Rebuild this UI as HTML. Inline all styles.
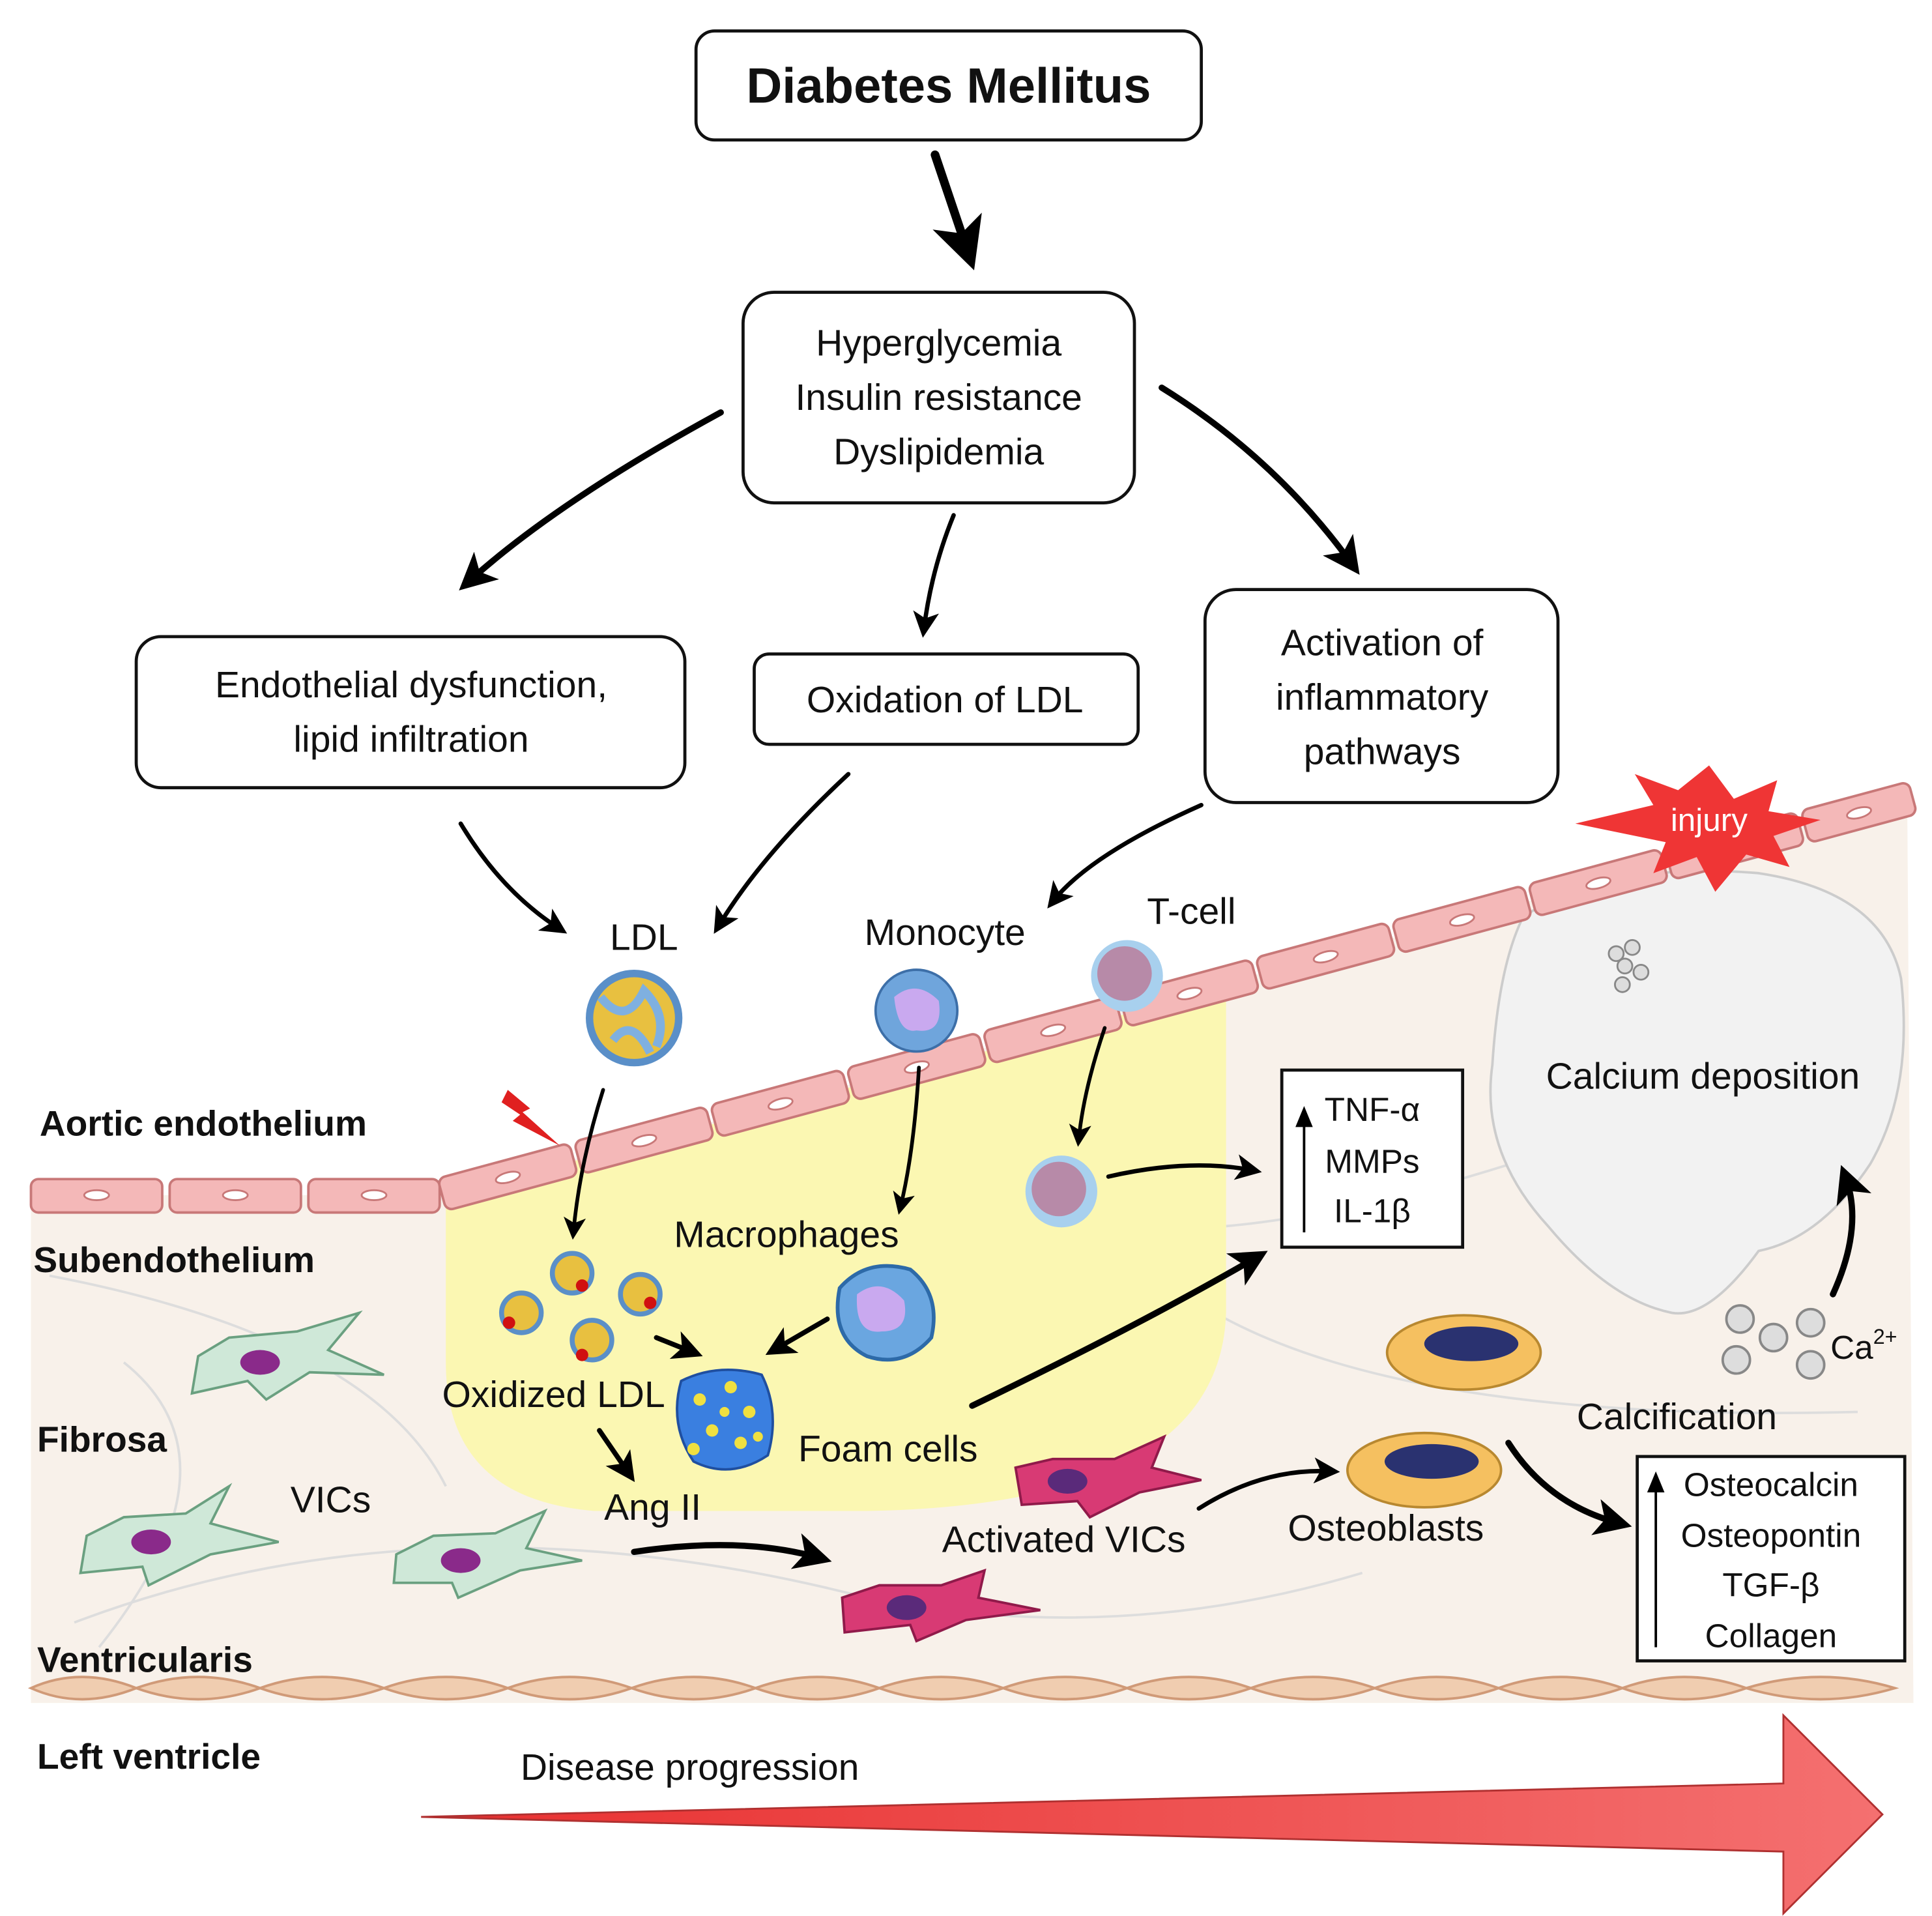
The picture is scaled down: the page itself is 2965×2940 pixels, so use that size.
<!DOCTYPE html>
<html><head><meta charset="utf-8"><style>
html,body{margin:0;padding:0;background:#fff;}
svg{display:block;}
text{font-family:"Liberation Sans",sans-serif;fill:#111;}
</style></head><body>
<svg width="2965" height="2940" viewBox="0 0 1560 1547" preserveAspectRatio="none" xmlns="http://www.w3.org/2000/svg">
<defs>
<marker id="ah" markerWidth="6" markerHeight="6" refX="4" refY="3" orient="auto" markerUnits="strokeWidth"><path d="M0,0 L6,3 L0,6 L1.5,3 Z" fill="#000"/></marker>
<linearGradient id="rg" x1="0" x2="1" y1="0" y2="0"><stop offset="0" stop-color="#e83030"/><stop offset="1" stop-color="#f47070"/></linearGradient>
</defs>
<rect width="1560" height="1547" fill="#fff"/>
<!-- tissue -->
<path d="M25,965 L355,965 L1540,645 L1545,1375 L25,1375 Z" fill="#f8f1ea"/>
<!-- fibers -->
<g stroke="#ddd" stroke-width="2" fill="none">
<path d="M40,1030 Q300,1080 360,1200"/><path d="M60,1310 Q350,1200 700,1290 Q900,1330 1100,1270"/>
<path d="M950,1040 Q1100,1150 1500,1140"/><path d="M100,1100 Q200,1180 80,1330"/>
<path d="M990,990 Q1100,980 1250,930"/>
</g>
<!-- yellow region -->
<path d="M360,965 L990,797 L990,1060 Q985,1215 700,1220 L480,1220 Q360,1210 360,1100 Z" fill="#fbf7b2"/>
<!-- calcium blob -->
<path d="M1230,740 Q1300,695 1420,705 Q1520,720 1535,790 Q1545,880 1510,940 Q1470,1000 1420,1010 Q1380,1065 1350,1060 Q1300,1050 1250,990 Q1195,930 1205,860 Q1210,780 1230,740 Z" fill="#f2f2f2" stroke="#ccc" stroke-width="2"/>
<g fill="#ddd" stroke="#888" stroke-width="1.5"><circle cx="1305" cy="770" r="6"/><circle cx="1318" cy="765" r="6"/><circle cx="1312" cy="780" r="6"/><circle cx="1325" cy="785" r="6"/><circle cx="1310" cy="795" r="6"/></g>
<!-- endothelium flat -->
<g fill="#f4b8b8" stroke="#c87878" stroke-width="2">
<rect x="25" y="952" width="106" height="27" rx="6"/><rect x="137" y="952" width="106" height="27" rx="6"/><rect x="249" y="952" width="106" height="27" rx="6"/>
</g>
<g fill="#fff" stroke="#c87878" stroke-width="1.5"><ellipse cx="78" cy="965" rx="10" ry="4"/><ellipse cx="190" cy="965" rx="10" ry="4"/><ellipse cx="302" cy="965" rx="10" ry="4"/></g>
<!-- endothelium slope -->
<g transform="translate(357,965) rotate(-15.1)">
<g fill="#f4b8b8" stroke="#c87878" stroke-width="2">
<rect x="0" y="-14" width="110" height="27" rx="6"/><rect x="114" y="-14" width="110" height="27" rx="6"/><rect x="228" y="-14" width="110" height="27" rx="6"/><rect x="342" y="-14" width="110" height="27" rx="6"/><rect x="456" y="-14" width="110" height="27" rx="6"/><rect x="570" y="-14" width="110" height="27" rx="6"/><rect x="684" y="-14" width="110" height="27" rx="6"/><rect x="798" y="-14" width="110" height="27" rx="6"/><rect x="912" y="-14" width="110" height="27" rx="6"/><rect x="1026" y="-14" width="110" height="27" rx="6"/><rect x="1140" y="-14" width="90" height="27" rx="6"/>
</g>
<g fill="#fff" stroke="#c87878" stroke-width="1.5"><ellipse cx="55" cy="0" rx="10" ry="4"/><ellipse cx="169" cy="0" rx="10" ry="4"/><ellipse cx="283" cy="0" rx="10" ry="4"/><ellipse cx="397" cy="0" rx="10" ry="4"/><ellipse cx="511" cy="0" rx="10" ry="4"/><ellipse cx="625" cy="0" rx="10" ry="4"/><ellipse cx="739" cy="0" rx="10" ry="4"/><ellipse cx="853" cy="0" rx="10" ry="4"/><ellipse cx="967" cy="0" rx="10" ry="4"/><ellipse cx="1081" cy="0" rx="10" ry="4"/><ellipse cx="1185" cy="0" rx="10" ry="4"/></g>
</g>
<!-- injury star -->
<path d="M1380,618 L1400,645 L1435,630 L1428,655 L1470,662 L1432,675 L1445,700 L1410,690 L1385,720 L1370,692 L1335,705 L1345,680 L1272,665 L1335,650 L1320,625 L1355,638 Z" fill="#ef3535"/>
<text x="1380" y="671" font-size="26" text-anchor="middle" style="fill:#fff">injury</text>
<!-- ventricularis -->
<g fill="#f0cdb0" stroke="#d09a78" stroke-width="2">
<path d="M25,1363 Q65,1345 110,1363 Q65,1381 25,1363Z"/><path d="M110,1363 Q160,1345 210,1363 Q160,1381 110,1363Z"/><path d="M210,1363 Q260,1345 310,1363 Q260,1381 210,1363Z"/><path d="M310,1363 Q360,1345 410,1363 Q360,1381 310,1363Z"/><path d="M410,1363 Q460,1345 510,1363 Q460,1381 410,1363Z"/><path d="M510,1363 Q560,1345 610,1363 Q560,1381 510,1363Z"/><path d="M610,1363 Q660,1345 710,1363 Q660,1381 610,1363Z"/><path d="M710,1363 Q760,1345 810,1363 Q760,1381 710,1363Z"/><path d="M810,1363 Q860,1345 910,1363 Q860,1381 810,1363Z"/><path d="M910,1363 Q960,1345 1010,1363 Q960,1381 910,1363Z"/><path d="M1010,1363 Q1060,1345 1110,1363 Q1060,1381 1010,1363Z"/><path d="M1110,1363 Q1160,1345 1210,1363 Q1160,1381 1110,1363Z"/><path d="M1210,1363 Q1260,1345 1310,1363 Q1260,1381 1210,1363Z"/><path d="M1310,1363 Q1360,1345 1410,1363 Q1360,1381 1310,1363Z"/><path d="M1410,1363 Q1470,1345 1530,1363 Q1470,1381 1410,1363Z"/>
</g>
<!-- progression arrow -->
<path d="M340,1467 L1440,1440 L1440,1385 L1520,1465 L1440,1545 L1440,1495 Z" fill="url(#rg)" stroke="#b03030" stroke-width="1.5"/>
<!-- boxes -->
<g fill="#fff" stroke="#111" stroke-width="2.5">
<rect x="562" y="25" width="408" height="88" rx="15"/>
<rect x="600" y="236" width="316" height="170" rx="25"/>
<rect x="110" y="514" width="443" height="122" rx="20"/>
<rect x="609" y="528" width="310" height="73" rx="12"/>
<rect x="973" y="476" width="285" height="172" rx="25"/>
</g>
<g fill="#fff" stroke="#111" stroke-width="2.5">
<rect x="1035" y="864" width="146" height="143"/>
<rect x="1322" y="1176" width="216" height="165"/>
</g>
<g font-size="30" text-anchor="middle">
<text x="766" y="83" font-size="40" font-weight="bold">Diabetes Mellitus</text>
<text x="758" y="287">Hyperglycemia</text><text x="758" y="331">Insulin resistance</text><text x="758" y="375">Dyslipidemia</text>
<text x="332" y="563">Endothelial dysfunction,</text><text x="332" y="607">lipid infiltration</text>
<text x="763" y="575">Oxidation of LDL</text>
<text x="1116" y="529">Activation of</text><text x="1116" y="573">inflammatory</text><text x="1116" y="617">pathways</text>
<text x="520" y="767">LDL</text><text x="763" y="763">Monocyte</text><text x="962" y="746">T-cell</text>
<text x="635" y="1007">Macrophages</text><text x="447" y="1136">Oxidized LDL</text><text x="717" y="1180">Foam cells</text>
<text x="527" y="1227">Ang II</text><text x="267" y="1221">VICs</text><text x="859" y="1253">Activated VICs</text>
<text x="1119" y="1244">Osteoblasts</text><text x="1354" y="1154">Calcification</text><text x="1375" y="879">Calcium deposition</text>
<text x="557" y="1437">Disease progression</text>
<text x="1108" y="905" font-size="27">TNF-α</text><text x="1108" y="947" font-size="27">MMPs</text><text x="1108" y="987" font-size="27">IL-1β</text>
<text x="1430" y="1208" font-size="27">Osteocalcin</text><text x="1430" y="1249" font-size="27">Osteopontin</text><text x="1430" y="1289" font-size="27">TGF-β</text><text x="1430" y="1330" font-size="27">Collagen</text>
</g>
<text x="1478" y="1097" font-size="27">Ca<tspan font-size="17" dy="-12">2+</tspan></text>
<g font-size="29" font-weight="bold">
<text x="32" y="917">Aortic  endothelium</text><text x="27" y="1027">Subendothelium</text><text x="30" y="1172">Fibrosa</text><text x="30" y="1350">Ventricularis</text><text x="30" y="1428">Left ventricle</text>
</g>
<!-- up arrows in boxes -->
<g stroke="#000" stroke-width="2"><line x1="1053" y1="995" x2="1053" y2="905"/><line x1="1337" y1="1330" x2="1337" y2="1200"/></g>
<path d="M1053,893 L1046,910 L1060,910Z M1337,1188 L1330,1205 L1344,1205Z" fill="#000"/>
<!-- cells -->
<circle cx="512" cy="822" r="36" fill="#e8c040" stroke="#5a8fc8" stroke-width="6"/>
<path d="M485,805 Q505,830 520,800 Q540,820 530,845 M495,840 Q510,820 525,850" stroke="#7fb0e0" stroke-width="7" fill="none"/>
<circle cx="740" cy="816" r="33" fill="#6fa5dc" stroke="#3d6fa8" stroke-width="2"/><path d="M722,805 Q740,790 758,808 Q762,835 740,832 Q725,835 722,805Z" fill="#c9a9ef"/>
<circle cx="910" cy="788" r="29" fill="#a8d0ee"/><circle cx="908" cy="786" r="22" fill="#b78aa8"/>
<circle cx="857" cy="962" r="29" fill="#a8d0ee"/><circle cx="855" cy="960" r="22" fill="#b78aa8"/>
<path d="M678,1040 Q700,1015 735,1025 Q760,1045 752,1080 Q730,1105 700,1095 Q670,1080 678,1040Z" fill="#6aa6e0" stroke="#2d6aa8" stroke-width="3"/><path d="M692,1045 Q712,1030 730,1050 Q735,1075 712,1075 Q690,1078 692,1045Z" fill="#c9a9ef"/>
<path d="M550,1115 Q580,1100 615,1110 Q630,1140 620,1175 Q590,1195 560,1180 Q540,1150 550,1115Z" fill="#3a7fe0" stroke="#1f4fa0" stroke-width="2"/>
<g fill="#f0e040"><circle cx="565" cy="1130" r="5"/><circle cx="590" cy="1120" r="5"/><circle cx="605" cy="1140" r="5"/><circle cx="575" cy="1155" r="5"/><circle cx="598" cy="1165" r="5"/><circle cx="560" cy="1170" r="5"/><circle cx="585" cy="1140" r="4"/><circle cx="612" cy="1160" r="4"/></g>
<g fill="#e8c040" stroke="#5a8fc8" stroke-width="4"><circle cx="462" cy="1028" r="16"/><circle cx="517" cy="1045" r="16"/><circle cx="421" cy="1060" r="16"/><circle cx="478" cy="1082" r="16"/></g>
<g fill="#d01010"><circle cx="470" cy="1038" r="5"/><circle cx="525" cy="1052" r="5"/><circle cx="411" cy="1068" r="5"/><circle cx="470" cy="1094" r="5"/></g>
<!-- VICs -->
<g fill="#cfe8d8" stroke="#6aa080" stroke-width="2">
<path d="M160,1095 L185,1080 L240,1075 L290,1060 L265,1090 L310,1110 L250,1108 L215,1130 L200,1115 L155,1125Z"/>
<path d="M70,1240 L100,1225 L150,1222 L185,1200 L170,1230 L225,1245 L170,1255 L120,1280 L115,1265 L65,1270Z"/>
<path d="M320,1255 L350,1240 L400,1238 L440,1220 L425,1250 L470,1260 L420,1268 L370,1290 L365,1278 L318,1278Z"/>
</g>
<g fill="#8a2a8a"><ellipse cx="210" cy="1100" rx="16" ry="10"/><ellipse cx="122" cy="1245" rx="16" ry="10"/><ellipse cx="372" cy="1260" rx="16" ry="10"/></g>
<g fill="#d83a74" stroke="#901a4a" stroke-width="2">
<path d="M820,1185 L850,1178 L900,1178 L940,1160 L930,1185 L970,1195 L920,1205 L880,1225 L870,1212 L825,1215Z"/>
<path d="M680,1290 L710,1280 L760,1280 L795,1268 L790,1290 L840,1300 L780,1308 L740,1325 L735,1312 L682,1318Z"/>
</g>
<g fill="#5a2a7a"><ellipse cx="862" cy="1196" rx="16" ry="10"/><ellipse cx="732" cy="1298" rx="16" ry="10"/></g>
<g fill="#f5c060" stroke="#b88830" stroke-width="2"><ellipse cx="1182" cy="1092" rx="62" ry="30"/><ellipse cx="1150" cy="1187" rx="62" ry="30"/></g>
<g fill="#2a3270"><ellipse cx="1188" cy="1085" rx="38" ry="14"/><ellipse cx="1156" cy="1180" rx="38" ry="14"/></g>
<g fill="#ddd" stroke="#888" stroke-width="2"><circle cx="1405" cy="1065" r="11"/><circle cx="1432" cy="1080" r="11"/><circle cx="1462" cy="1068" r="11"/><circle cx="1402" cy="1098" r="11"/><circle cx="1462" cy="1102" r="11"/></g>
<path d="M410,880 L428,895 L422,898 L452,925 L414,905 L420,900 L405,890Z" fill="#e02020"/>
<!-- arrows -->
<g fill="none" stroke="#000" stroke-linecap="round">
<path d="M755,125 Q770,170 782,205" stroke-width="7" marker-end="url(#ah)"/>
<path d="M582,333 Q450,405 378,470" stroke-width="5" marker-end="url(#ah)"/>
<path d="M770,416 Q752,460 746,508" stroke-width="3.5" marker-end="url(#ah)"/>
<path d="M938,313 Q1030,370 1092,456" stroke-width="5" marker-end="url(#ah)"/>
<path d="M372,665 Q405,720 452,750" stroke-width="3.5" marker-end="url(#ah)"/>
<path d="M685,625 Q615,690 580,748" stroke-width="3.5" marker-end="url(#ah)"/>
<path d="M970,650 Q880,690 850,728" stroke-width="3.5" marker-end="url(#ah)"/>
<path d="M487,880 Q468,940 463,995" stroke-width="3" marker-end="url(#ah)"/>
<path d="M742,862 Q738,930 727,975" stroke-width="3" marker-end="url(#ah)"/>
<path d="M892,830 Q875,880 871,920" stroke-width="3" marker-end="url(#ah)"/>
<path d="M895,950 Q960,935 1012,945" stroke-width="3.5" marker-end="url(#ah)"/>
<path d="M785,1135 Q920,1070 1015,1015" stroke-width="5" marker-end="url(#ah)"/>
<path d="M530,1080 L560,1092" stroke-width="4" marker-end="url(#ah)"/>
<path d="M668,1065 L625,1090" stroke-width="4" marker-end="url(#ah)"/>
<path d="M484,1155 L508,1190" stroke-width="4" marker-end="url(#ah)"/>
<path d="M512,1253 Q600,1240 662,1258" stroke-width="5" marker-end="url(#ah)"/>
<path d="M968,1218 Q1020,1185 1075,1188" stroke-width="3.5" marker-end="url(#ah)"/>
<path d="M1218,1165 Q1250,1215 1308,1230" stroke-width="5" marker-end="url(#ah)"/>
<path d="M1480,1045 Q1505,990 1490,950" stroke-width="5" marker-end="url(#ah)"/>
</g>
</svg>
</body></html>
